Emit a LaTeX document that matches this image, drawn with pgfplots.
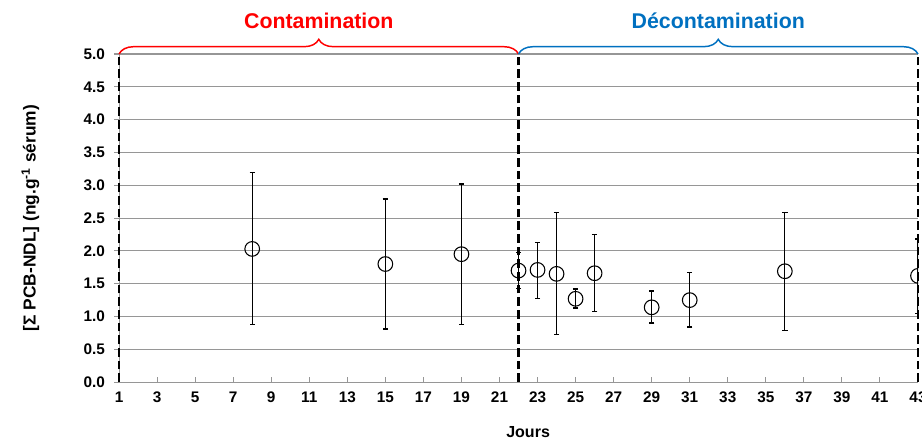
\documentclass[border=0pt]{standalone}
\usepackage{fontspec}
\setmainfont{Liberation Sans}
\usepackage{pgfplots}
\pgfplotsset{compat=1.18}
\usetikzlibrary{decorations.pathreplacing,calc}
\definecolor{dblue}{RGB}{0,112,192}
\definecolor{gridgray}{RGB}{150,150,150}
\pgfplotstableread{
x y ep em
8 2.03 1.16 1.15
15 1.80 0.99 0.99
19 1.95 1.07 1.07
22 1.70 0.27 0.27
23 1.71 0.42 0.44
24 1.65 0.94 0.93
25 1.27 0.15 0.14
26 1.66 0.59 0.58
29 1.14 0.25 0.24
31 1.25 0.42 0.41
36 1.69 0.89 0.90
43 1.62 0.56 0.57
}\data
\pgfplotstableread{
x y
1 0
1 5
}\lineA
\pgfplotstableread{
x y
22 0
22 5
}\lineB
\pgfplotstableread{
x y
43 0
43 5
}\lineC
\begin{document}
\begin{tikzpicture}
\begin{axis}[
 name=ax, scale only axis, width=599pt, height=246pt,
 xmin=1, xmax=43, ymin=0, ymax=5,
 xtick={1,3,...,43}, ytick={0,0.5,...,5},
 yticklabel style={xshift=-3.5pt, /pgf/number format/.cd, fixed, fixed zerofill, precision=1},
 /pgf/number format/assume math mode=true,
 ticklabel style={font=\fontsize{11.5}{13}\selectfont\bfseries},
 xticklabel style={yshift=-4pt},
 axis lines*=left,
 axis line style={gridgray, line width=0.8pt},
 ymajorgrids, grid style={gridgray, line width=0.8pt},
 xtick align=inside, ytick align=outside,
 major tick length=3.5pt,
 tick style={gridgray, line width=0.8pt},
 clip marker paths=true,
 xlabel={Jours},
 ylabel={[Σ PCB-NDL] (ng.g\textsuperscript{-1} sérum)},
 xlabel style={font=\fontsize{12}{14}\selectfont\bfseries, at={(axis description cs:0.512,-0.152)}, anchor=center},
 ylabel style={font=\fontsize{13}{15}\selectfont\bfseries, at={(axis description cs:-0.111,0.5)}, anchor=center},
]
\addplot[only marks, mark=o, black, mark size=5.5pt, mark options={line width=0.8pt},
  error bars/.cd, y dir=both, y explicit,
  error bar style={line width=0.8pt, black},
  error mark options={rotate=90, mark size=2pt, line width=0.9pt, black}]
  table[x=x, y=y, y error plus=ep, y error minus=em] {\data};
\end{axis}
\begin{axis}[
 scale only axis, width=599pt, height=246pt,
 xmin=1, xmax=43, ymin=0, ymax=5, hide axis, clip=false,
]
\addplot[black, line width=2pt, dash pattern=on 6.5pt off 3pt] table {\lineA};
\addplot[black, line width=2pt, dash pattern=on 6.5pt off 3pt] table {\lineB};
\addplot[black, line width=2pt, dash pattern=on 6.5pt off 3pt] table {\lineC};
\end{axis}
\draw[red, line width=1.1pt, decorate, decoration={brace, amplitude=11pt}]
  (ax.north west) -- (ax.north) node[midway, anchor=base, yshift=19.5pt, font=\fontsize{16}{18}\selectfont\bfseries]{Contamination};
\draw[dblue, line width=1.1pt, decorate, decoration={brace, amplitude=11pt}]
  (ax.north) -- (ax.north east) node[midway, anchor=base, yshift=19.5pt, font=\fontsize{16}{18}\selectfont\bfseries]{Décontamination};
\pgfresetboundingbox
\path ($(ax.south west)+(-89.25pt,-45pt)$) rectangle ($(ax.north east)+(3pt,40.5pt)$);
\end{tikzpicture}
\end{document}
